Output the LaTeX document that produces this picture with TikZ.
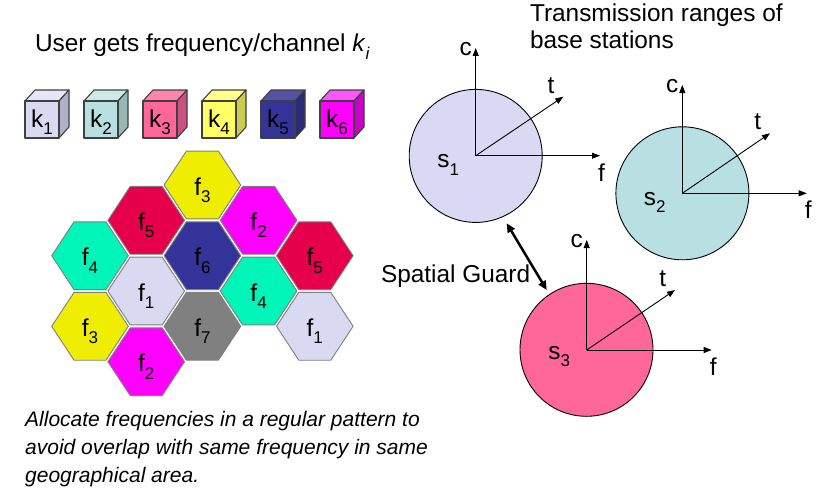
\documentclass[tikz,border=0pt]{standalone}
\usepackage{fontspec}
\setmainfont{Liberation Sans}
\usetikzlibrary{arrows.meta}
\definecolor{edgegray}{HTML}{404040}
\definecolor{hexedge}{HTML}{7F7F7F}
% cube colours: front / top / side
\definecolor{ck1}{HTML}{D9D9F2}\definecolor{ck1t}{HTML}{E6E6F7}\definecolor{ck1s}{HTML}{B0B0C8}
\definecolor{ck2}{HTML}{B8E0E0}\definecolor{ck2t}{HTML}{CDEAEA}\definecolor{ck2s}{HTML}{98B8B8}
\definecolor{ck3}{HTML}{FF6699}\definecolor{ck3t}{HTML}{FF85AD}\definecolor{ck3s}{HTML}{CC5080}
\definecolor{ck4}{HTML}{FFFF66}\definecolor{ck4t}{HTML}{FFFF8C}\definecolor{ck4s}{HTML}{CCCC50}
\definecolor{ck5}{HTML}{333399}\definecolor{ck5t}{HTML}{5252A8}\definecolor{ck5s}{HTML}{2A2A78}
\definecolor{ck6}{HTML}{FF00FF}\definecolor{ck6t}{HTML}{FF55FF}\definecolor{ck6s}{HTML}{CC00CC}
% hexagon colours
\definecolor{hyel}{HTML}{F0EE00}
\definecolor{hred}{HTML}{E6004C}
\definecolor{hmag}{HTML}{FF00FF}
\definecolor{hmint}{HTML}{00F5B8}
\definecolor{hnavy}{HTML}{333399}
\definecolor{hlav}{HTML}{D9D9F2}
\definecolor{hgray}{HTML}{808080}
% circle colours
\definecolor{cs1}{HTML}{D9D9F3}
\definecolor{cs2}{HTML}{B8E0E2}
\definecolor{cs3}{HTML}{FF6699}
\newcommand\bigf{\fontsize{24.4}{29}\selectfont}
\newcommand\lsub[1]{\raisebox{-7.3pt}{\fontsize{17}{17}\selectfont #1}}
\newcommand\mycube[4]{%
 \begin{scope}[shift={(#1,101)}]
  \path[cubeface, fill=#2t] (0,0) -- (10,-11) -- (44,-11) -- (34,0) -- cycle;
  \path[cubeface, fill=#2s] (34,0) -- (44,-11) -- (44,26) -- (34,37) -- cycle;
  \path[cubeface, fill=#2] (0,0) rectangle (34,37);
  \node[lbl, anchor=base] (#3) at (17,26) {#4};
 \end{scope}}
\newcommand\hexc[5]{%
 \begin{scope}[shift={(#1,#2)}]
  \path[hexcell, fill=#3] (-38.3,0) -- (-16,-33.9) -- (16,-33.9) -- (38.3,0) -- (16,33.9) -- (-16,33.9) -- cycle;
  \node[lbl, anchor=base] (#4) at (0,10) {#5};
 \end{scope}}
\begin{document}
\begin{tikzpicture}[x=1pt,y=-1pt,
  lbl/.style={inner sep=0pt, outer sep=0pt, font=\bigf},
  cubeface/.style={draw=edgegray, line width=1.1pt, line join=round},
  hexcell/.style={draw=hexedge, line width=0.9pt, line join=miter},
  rangecircle/.style={circle, draw=black, line width=0.9pt, minimum size=133pt, inner sep=0pt},
  axis/.style={line width=0.9pt, draw=black, -{Triangle[length=8pt,width=6pt]}},
  guard/.style={line width=2.5pt, {Triangle[length=9pt,width=8pt]}-{Triangle[length=9pt,width=8pt]}},
  caption/.style={inner sep=0pt, font=\fontsize{21}{28}\selectfont\itshape, anchor=base west}]
\useasboundingbox (0,0) rectangle (818,495);

% title
\node[lbl, anchor=base west] (title) at (35,52) {User gets frequency/channel \textit{k}\lsub{\textit{i}}};

% cubes
\mycube{25}{ck1}{k1}{k\lsub{1}}
\mycube{84}{ck2}{k2}{k\lsub{2}}
\mycube{143}{ck3}{k3}{k\lsub{3}}
\mycube{202}{ck4}{k4}{k\lsub{4}}
\mycube{261}{ck5}{k5}{k\lsub{5}}
\mycube{320}{ck6}{k6}{k\lsub{6}}

% hexagons
\hexc{202.4}{185}{hyel}{h1}{f\lsub{3}}
\hexc{146.2}{220.3}{hred}{h2}{f\lsub{5}}
\hexc{258.6}{220.3}{hmag}{h3}{f\lsub{2}}
\hexc{90}{255.7}{hmint}{h4}{f\lsub{4}}
\hexc{202.4}{255.7}{hnavy}{h5}{f\lsub{6}}
\hexc{314.8}{255.7}{hred}{h6}{f\lsub{5}}
\hexc{146.2}{291}{hlav}{h7}{f\lsub{1}}
\hexc{258.6}{291}{hmint}{h8}{f\lsub{4}}
\hexc{90}{326.3}{hyel}{h9}{f\lsub{3}}
\hexc{202.4}{326.3}{hgray}{h10}{f\lsub{7}}
\hexc{314.8}{326.3}{hlav}{h11}{f\lsub{1}}
\hexc{146.2}{361.7}{hmag}{h12}{f\lsub{2}}

% caption
\node[caption] (cap1) at (25,426.5) {Allocate frequencies in a regular pattern to};
\node[caption] (cap2) at (25,454.3) {avoid overlap with same frequency in same};
\node[caption] (cap3) at (25,482.2) {geographical area.};

% right title
\node[lbl, anchor=base west] (tr1) at (530,22) {Transmission ranges of};
\node[lbl, anchor=base west] (tr2) at (530,48.5) {base stations};

% circles
\node[rangecircle, fill=cs1] (s1c) at (475.7,155.9) {};
\node[rangecircle, fill=cs2] (s2c) at (682.4,193.3) {};
\node[rangecircle, fill=cs3] (s3c) at (586.5,349.8) {};

% axes s1
\coordinate (o1) at (475.7,155.7);
\coordinate (c1) at (475.7,48);
\coordinate (t1) at (563.3,96.7);
\coordinate (ft1) at (600,155.7);
\draw[axis] (o1) -- (c1);
\draw[axis] (o1) -- (t1);
\draw[axis] (o1) -- (ft1);
\node[lbl, anchor=base east] (lc1) at ([shift={(-4,7.5)}]c1) {c};
\node[lbl, anchor=base] (lt1) at ([shift={(-12.3,-3.4)}]t1) {t};
\node[lbl, anchor=base] (lf1) at ([shift={(1.5,25.5)}]ft1) {f};
\node[lbl, anchor=base] (ls1) at ([shift={(-27.5,12)}]o1) {s\lsub{1}};

% axes s2
\coordinate (o2) at (682.3,193.3);
\coordinate (c2) at (682.3,85);
\coordinate (t2) at (770,133.3);
\coordinate (ft2) at (806.7,193.3);
\draw[axis] (o2) -- (c2);
\draw[axis] (o2) -- (t2);
\draw[axis] (o2) -- (ft2);
\node[lbl, anchor=base east] (lc2) at ([shift={(-4,7.5)}]c2) {c};
\node[lbl, anchor=base] (lt2) at ([shift={(-12.3,-3.4)}]t2) {t};
\node[lbl, anchor=base] (lf2) at ([shift={(1.5,25.5)}]ft2) {f};
\node[lbl, anchor=base] (ls2) at ([shift={(-27.5,12)}]o2) {s\lsub{2}};

% axes s3
\coordinate (o3) at (586.7,350);
\coordinate (c3) at (586.7,240);
\coordinate (t3) at (675,290);
\coordinate (ft3) at (711.7,350);
\draw[axis] (o3) -- (c3);
\draw[axis] (o3) -- (t3);
\draw[axis] (o3) -- (ft3);
\node[lbl, anchor=base east] (lc3) at ([shift={(-4,7.5)}]c3) {c};
\node[lbl, anchor=base] (lt3) at ([shift={(-12.3,-3.4)}]t3) {t};
\node[lbl, anchor=base] (lf3) at ([shift={(1.5,25.5)}]ft3) {f};
\node[lbl, anchor=base] (ls3) at ([shift={(-27.5,9)}]o3) {s\lsub{3}};

% spatial guard
\node[lbl, anchor=base west] (sg) at (381,282) {Spatial Guard};
\coordinate (ga) at (506.7,223.3);
\coordinate (gb) at (546.7,290);
\draw[guard] (ga) -- (gb);
\end{tikzpicture}
\end{document}
